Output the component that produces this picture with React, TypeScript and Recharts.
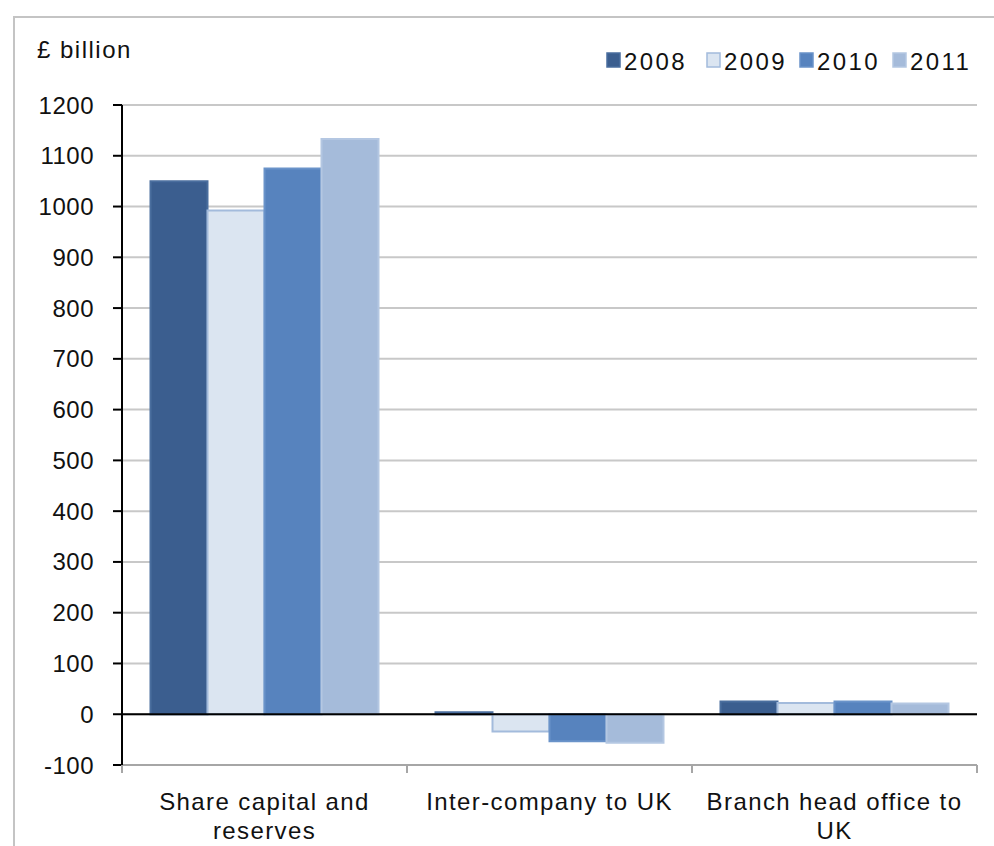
import React from "react";
import {
  BarChart,
  Bar,
  XAxis,
  YAxis,
  CartesianGrid,
  ReferenceLine,
  Legend,
} from "recharts";

// Category labels, split into the lines they are printed on
const categoryLines: string[][] = [
  ["Share capital and", "reserves"],
  ["Inter-company to UK"],
  ["Branch head office to", "UK"],
];
const categories = categoryLines.map((l) => l.join(" "));

const years = ["2008", "2009", "2010", "2011"];

// £ billion, per category
const values2008 = [1050, 4, 25];
const values2009 = [992, -34, 22];
const values2010 = [1075, -53, 25];
const values2011 = [1133, -56, 21];

const yTicks = [-100, 0, 100, 200, 300, 400, 500, 600, 700, 800, 900, 1000, 1100, 1200];

const seriesValues = [values2008, values2009, values2010, values2011];
const fills = ["#3B5E8F", "#DBE5F1", "#5783BE", "#A5BBDA"];
const strokes = ["#4A6E9E", "#A3BBDC", "#6A93C9", "#B4C7E2"];

const data = categories.map((name, i) => {
  const row: Record<string, string | number> = { name };
  years.forEach((y, s) => {
    row[y] = seriesValues[s][i];
  });
  return row;
});

const W = 994;
const H = 846;
const MARGIN = { top: 105, right: 17, left: 0, bottom: 0 };
const Y_AXIS_W = 122;
const PLOT_W = W - MARGIN.left - MARGIN.right - Y_AXIS_W;
const BAND = PLOT_W / categories.length;
const FONT = "'Liberation Sans', Arial, sans-serif";
const FS = 24;

const CategoryTick = (props: any) => {
  const { x, y, payload, index } = props;
  const lines = categoryLines[index] ?? [String(payload.value)];
  const left = x - BAND / 2;
  const right = x + BAND / 2;
  return (
    <g>
      <line x1={left} y1={y} x2={left} y2={y + 8} stroke="#a6a6a6" strokeWidth={2} />
      {index === categories.length - 1 && (
        <line x1={right} y1={y} x2={right} y2={y + 8} stroke="#a6a6a6" strokeWidth={2} />
      )}
      <text
        x={x}
        y={y + 45}
        textAnchor="middle"
        fontFamily={FONT}
        fontSize={FS}
        fill="#111"
        letterSpacing={1.4}
      >
        {lines.map((ln, k) => (
          <tspan key={k} x={x} dy={k === 0 ? 0 : 29}>
            {ln}
          </tspan>
        ))}
      </text>
    </g>
  );
};

const LegendContent = () => {
  const xs = [607, 707, 800, 893];
  return (
    <svg width={W} height={40} style={{ position: "absolute", left: 0, top: 0, overflow: "visible" }}>
      {years.map((y, i) => (
        <g key={y}>
          <rect
            x={xs[i]}
            y={53}
            width={13}
            height={14}
            fill={fills[i]}
            stroke={strokes[i]}
            strokeWidth={1.5}
          />
          <text
            x={xs[i] + 17}
            y={70}
            fontFamily={FONT}
            fontSize={FS}
            fill="#111"
            letterSpacing={2.4}
          >
            {y}
          </text>
        </g>
      ))}
    </svg>
  );
};

export default function App() {
  return (
    <div
      style={{
        position: "absolute",
        left: 0,
        top: 0,
        width: W,
        height: H,
        overflow: "hidden",
        background: "#fff",
      }}
    >
      <div
        style={{
          position: "absolute",
          left: 13,
          top: 16,
          width: W + 20,
          height: H + 20,
          border: "2px solid #c4c4c4",
        }}
      />
      <div
        style={{
          position: "absolute",
          left: 37,
          top: 36,
          fontFamily: FONT,
          fontSize: FS,
          letterSpacing: 1.5,
          color: "#111",
        }}
      >
        £ billion
      </div>
      <div style={{ position: "absolute", left: 0, top: 0 }}>
        <BarChart
          width={W}
          height={H}
          data={data}
          margin={MARGIN}
          barCategoryGap="10%"
          barGap={0}
        >
          <CartesianGrid vertical={false} stroke="#c8c8c8" strokeWidth={2} />
          <XAxis
            dataKey="name"
            height={H - 765}
            axisLine={{ stroke: "#a6a6a6", strokeWidth: 2 }}
            tickLine={false}
            tickSize={0}
            tickMargin={0}
            interval={0}
            tick={<CategoryTick />}
          />
          <YAxis
            width={Y_AXIS_W}
            domain={[-100, 1200]}
            ticks={yTicks}
            interval={0}
            axisLine={{ stroke: "#000", strokeWidth: 2 }}
            tickLine={{ stroke: "#000", strokeWidth: 2 }}
            tickSize={9}
            tickMargin={19}
            tick={{ fontFamily: FONT, fontSize: FS, fill: "#111", letterSpacing: 0.5 }}
          />
          <Legend verticalAlign="top" content={<LegendContent />} wrapperStyle={{ top: 0, left: 0 }} />
          {years.map((y, i) => (
            <Bar
              key={y}
              dataKey={y}
              fill={fills[i]}
              stroke={strokes[i]}
              strokeWidth={2}
              isAnimationActive={false}
            />
          ))}
          <ReferenceLine y={0} stroke="#000" strokeWidth={2} />
        </BarChart>
      </div>
    </div>
  );
}
